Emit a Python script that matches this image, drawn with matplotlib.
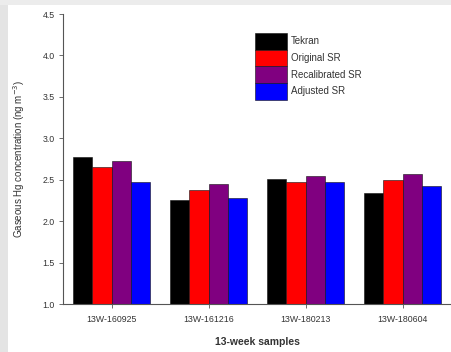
import matplotlib
matplotlib.use("Agg")
import matplotlib.pyplot as plt
import numpy as np
from matplotlib.patches import Rectangle

plt.rcParams['font.family'] = ['Liberation Sans', 'DejaVu Sans']

categories = ["13W-160925", "13W-161216", "13W-180213", "13W-180604"]
series_names = ["Tekran", "Original SR", "Recalibrated SR", "Adjusted SR"]
tekran = [2.78, 2.25, 2.51, 2.34]
original_sr = [2.65, 2.37, 2.475, 2.50]
recalibrated_sr = [2.72, 2.45, 2.545, 2.57]
adjusted_sr = [2.47, 2.28, 2.47, 2.42]
yticks = [1.0, 1.5, 2.0, 2.5, 3.0, 3.5, 4.0, 4.5]

series = [tekran, original_sr, recalibrated_sr, adjusted_sr]
colors = ["#000000", "#ff0000", "#800080", "#0000ff"]

fig = plt.figure(figsize=(4.51, 3.52), dpi=100)
fig.patches.append(Rectangle((0, 0), 8/451, 1, transform=fig.transFigure,
                             facecolor="#e4e4e4", edgecolor="none", zorder=-10))
fig.patches.append(Rectangle((0, 1 - 5/352), 1, 5/352, transform=fig.transFigure,
                             facecolor="#ececec", edgecolor="none", zorder=-10))

ax = fig.add_axes([63/451, 48/352, 388/451, 290/352])
x = np.arange(len(categories))
w = 0.2
for i, (vals, c, name) in enumerate(zip(series, colors, series_names)):
    ax.bar(x + (i - 1.5) * w, np.array(vals) - 1.0, bottom=1.0, width=w,
           color=c, edgecolor="#111111", linewidth=0.4, label=name)

ax.set_xlim(-0.5, 3.5)
ax.set_ylim(1.0, 4.5)
ax.set_yticks(yticks)
ax.set_yticklabels([f"{v:.1f}" for v in yticks])
ax.set_xticks(x)
ax.set_xticklabels(categories)
ax.spines['top'].set_visible(False)
ax.spines['right'].set_visible(False)
for s in ['left', 'bottom']:
    ax.spines[s].set_color("#555555")
    ax.spines[s].set_linewidth(0.8)
ax.tick_params(axis='both', direction='out', length=3, width=0.6,
               colors="#555555", labelsize=6.3, labelcolor="#333333")
ax.tick_params(axis='x', pad=5)
ax.tick_params(axis='y', pad=3)
ax.set_xlabel("13-week samples", fontsize=7.5, fontweight='bold', color="#333333", labelpad=9)
ax.set_ylabel("Gaseous Hg concentration (ng m$^{-3}$)", fontsize=7, color="#333333", labelpad=11)

leg = ax.legend(loc='upper left', bbox_to_anchor=(0.495, 0.934), frameon=False,
                borderaxespad=0, borderpad=0, handlelength=3.3, handleheight=2.25,
                labelspacing=0.0, handletextpad=0.4, fontsize=7)
for t in leg.get_texts():
    t.set_color("#333333")

fig.savefig("out.png", dpi=100)
